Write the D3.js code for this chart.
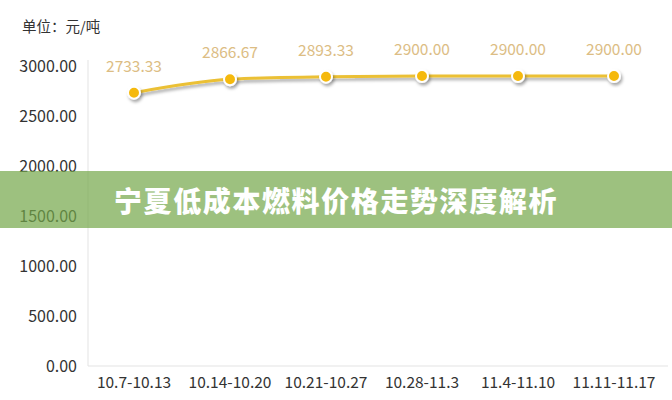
<!DOCTYPE html>
<html><head><meta charset="utf-8">
<script src="https://cdn.jsdelivr.net/npm/d3@7/dist/d3.min.js"></script>
<style>html,body{margin:0;padding:0;background:#fff;}svg{display:block;}</style>
</head><body>
<svg id="c" width="672" height="400"></svg>
<script>
const categories = ["10.7-10.13","10.14-10.20","10.21-10.27","10.28-11.3","11.4-11.10","11.11-11.17"];
const prices = [2733.33, 2866.67, 2893.33, 2900.00, 2900.00, 2900.00];
const yTicks = [0, 500, 1000, 1500, 2000, 2500, 3000];
const unitLabel = "单位：元/吨";
const bannerTitle = "宁夏低成本燃料价格走势深度解析";

const svg = d3.select("#c");
const font = "'Noto Sans CJK SC','Noto Sans',sans-serif";
const defs = svg.append("defs");
const f = defs.append("filter").attr("id","sh").attr("x","-50%").attr("y","-50%").attr("width","200%").attr("height","200%");
f.append("feDropShadow").attr("dx",1.5).attr("dy",2.5).attr("stdDeviation",1.6).attr("flood-color","#000").attr("flood-opacity",0.35);

const x = d3.scaleBand().domain(categories).range([86, 662]);
const y = d3.scaleLinear().domain([0, 3000]).range([366, 66]);

// unit label
svg.append("text").attr("x",22).attr("y",32).attr("font-family",font).attr("font-size",14.5).attr("fill","#333").text(unitLabel);

// y axis
const yAxis = d3.axisLeft(y).tickValues(yTicks).tickFormat(d3.format(".2f")).tickSize(0).tickPadding(11);
const gy = svg.append("g").attr("transform","translate(88,0)").call(yAxis);
gy.select(".domain").attr("stroke","#e3e3e3").attr("d","M0,60V366");
gy.selectAll("text").attr("font-family",font).attr("font-size",16).attr("fill","#333");

// x axis
const xAxis = d3.axisBottom(x).tickSize(0).tickPadding(11);
const gx = svg.append("g").attr("transform","translate(0,366)").call(xAxis);
gx.select(".domain").attr("stroke","#e3e3e3").attr("d","M88,0H668");
gx.selectAll("text").attr("font-family",font).attr("font-size",15.5).attr("fill","#333");

// line
const cx = d => x(d) + x.bandwidth()/2;
const line = d3.line().x((d,i)=>cx(categories[i])).y(d=>y(d)).curve(d3.curveMonotoneX);
svg.append("path").datum(prices).attr("d",line).attr("fill","none").attr("stroke","#ebc035").attr("stroke-width",3).attr("filter","url(#sh)");

// points
svg.selectAll("circle.pt").data(prices).enter().append("circle").attr("class","pt")
  .attr("cx",(d,i)=>cx(categories[i])).attr("cy",d=>y(d)).attr("r",6)
  .attr("fill","#f5b90f").attr("stroke","#fff").attr("stroke-width",2).attr("filter","url(#sh)");

// labels
svg.selectAll("text.lbl").data(prices).enter().append("text").attr("class","lbl")
  .attr("x",(d,i)=>cx(categories[i])).attr("y",d=>y(d)-21)
  .attr("text-anchor","middle").attr("font-family",font).attr("font-size",15.5).attr("fill","#dcbd84")
  .text(d=>d3.format(".2f")(d));

// banner (semi-transparent overlay)
svg.append("rect").attr("x",0).attr("y",171).attr("width",672).attr("height",57).attr("fill","#73a648").attr("fill-opacity",0.7);
svg.append("text").attr("x",336).attr("y",200).attr("text-anchor","middle").attr("dominant-baseline","central")
  .attr("font-family",font).attr("font-weight",900).attr("font-size",28).attr("letter-spacing",1.6)
  .attr("fill","#fff").text(bannerTitle);
</script>
</body></html>
